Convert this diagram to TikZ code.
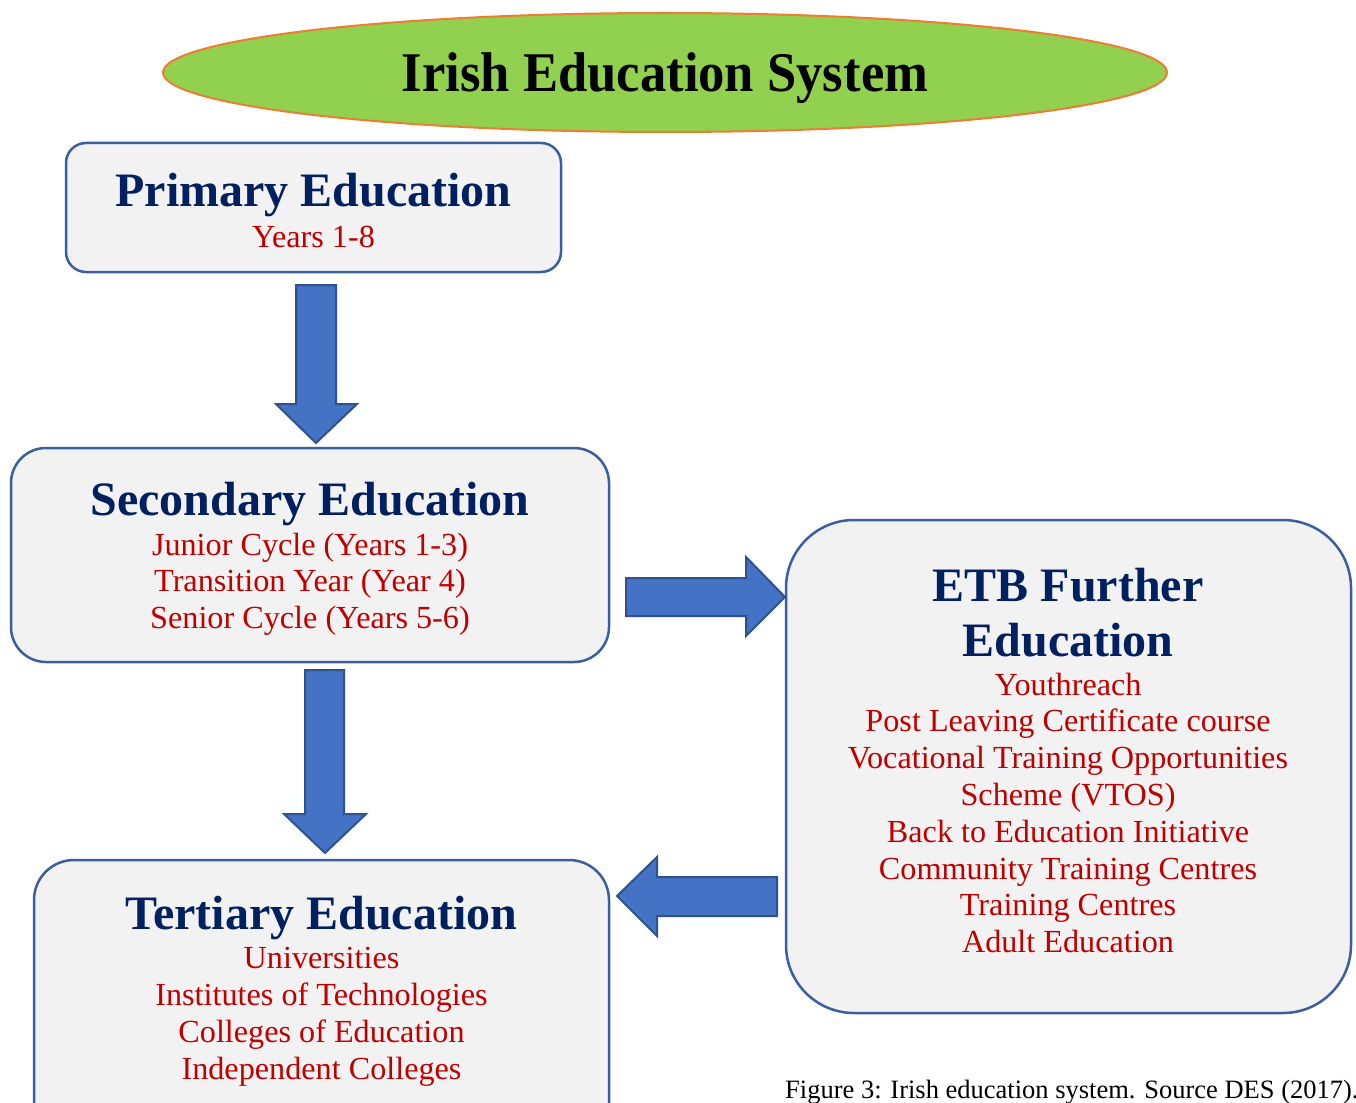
\documentclass[tikz,border=0pt]{standalone}
\usepackage{fontspec}
\setmainfont{Liberation Serif}
\usetikzlibrary{shapes.geometric}
\definecolor{navy}{HTML}{002060}
\definecolor{dred}{HTML}{C00000}
\definecolor{boxfill}{HTML}{F2F2F2}
\definecolor{boxline}{HTML}{3A5E9E}
\definecolor{arrfill}{HTML}{4472C4}
\definecolor{arrline}{HTML}{2F528F}
\definecolor{ellfill}{HTML}{92D050}
\definecolor{ellline}{HTML}{ED7D31}
\begin{document}
\begin{tikzpicture}[x=1pt,y=-1pt,
  box/.style={draw=boxline,line width=2.5pt,fill=boxfill,rectangle,inner sep=0pt},
  headtxt/.style={text=navy,font=\fontsize{48}{48}\selectfont\bfseries,anchor=base,inner sep=0pt},
  itemtxt/.style={text=dred,font=\fontsize{32.2}{32.2}\selectfont,anchor=base,inner sep=0pt},
  barrow/.style={fill=arrfill,draw=arrline,line width=2pt,line join=miter}]
\useasboundingbox (0,0) rectangle (1356,1102);
\clip (0,0) rectangle (1356,1102);
\fill[white] (0,0) rectangle (1356,1102);

% title ellipse
\node[ellipse,draw=ellline,line width=2pt,fill=ellfill,minimum width=1004pt,minimum height=119pt,inner sep=0pt] (ell) at (665,72.5) {};
\node[anchor=base,inner sep=0pt,font=\fontsize{56}{56}\selectfont\bfseries] (elltxt) at (665,92) {\scalebox{0.94}[1]{Irish Education System}};

% boxes
\node[box,rounded corners=20pt,minimum width=495pt,minimum height=129pt] (prim) at (313.5,207.5) {};
\node[box,rounded corners=35pt,minimum width=598pt,minimum height=214pt] (sec) at (310,555) {};
\node[box,rounded corners=68pt,minimum width=565pt,minimum height=493pt] (etb) at (1068.5,766.5) {};
\node[box,rounded corners=40pt,minimum width=575pt,minimum height=290pt] (tert) at (321.5,1005) {};

% primary text
\node[headtxt] (primh) at (313.5,207) {Primary Education};
\node[itemtxt] (prim1) at (313.5,247) {Years 1-8};

% secondary text
\node[headtxt] (sech) at (310,515) {Secondary Education};
\foreach \t [count=\i] in {{Junior Cycle (Years 1-3)},{Transition Year (Year 4)},{Senior Cycle (Years 5-6)}}
  \node[itemtxt] (sec\i) at (310,{555+(\i-1)*36.6}) {\t};

% ETB text
\node[headtxt] (etbh1) at (1068,601) {ETB Further};
\node[headtxt] (etbh2) at (1068,656) {Education};
\foreach \t [count=\i] in {{Youthreach},{Post Leaving Certificate course},{Vocational Training Opportunities},{Scheme (VTOS)},{Back to Education Initiative},{Community Training Centres},{Training Centres},{Adult Education}}
  \node[itemtxt] (etb\i) at (1068,{695+(\i-1)*36.8}) {\t};

% tertiary text
\node[headtxt] (terth) at (321.5,929) {Tertiary Education};
\foreach \t [count=\i] in {{Universities},{Institutes of Technologies},{Colleges of Education},{Independent Colleges}}
  \node[itemtxt] (tert\i) at (321.5,{968+(\i-1)*37}) {\t};

% block arrows
\draw[barrow] (296,285)--(336,285)--(336,404)--(357,404)--(316,443)--(276,404)--(296,404)--cycle;
\draw[barrow] (305,670)--(344,670)--(344,814)--(366,814)--(325,853)--(284,814)--(305,814)--cycle;
\draw[barrow] (626,578)--(746,578)--(746,557)--(785,597)--(746,636)--(746,616)--(626,616)--cycle;
\draw[barrow] (777,877)--(657,877)--(657,857)--(617,896)--(657,936)--(657,916)--(777,916)--cycle;

% caption
\node[anchor=base west,inner sep=0pt,font=\fontsize{26.5}{26.5}\selectfont] (cap) at (785,1098) {Figure 3: Irish education system. Source DES (2017).};
\end{tikzpicture}
\end{document}
